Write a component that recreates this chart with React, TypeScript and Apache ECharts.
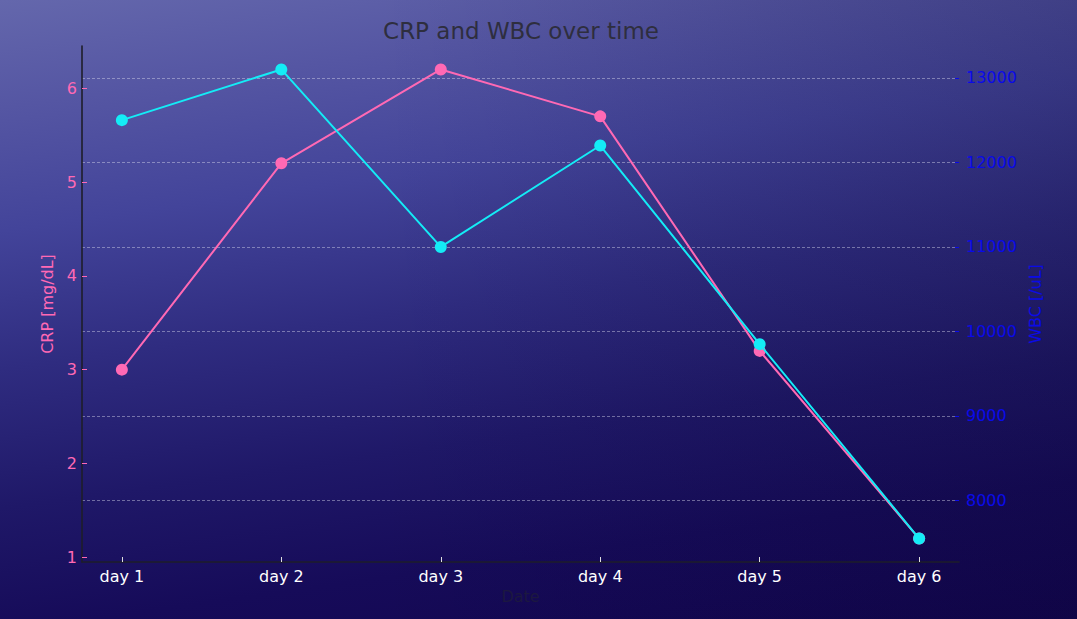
import React, { useEffect, useRef } from "react";
import * as echarts from "echarts";

const categories = ["day 1", "day 2", "day 3", "day 4", "day 5", "day 6"];
const crpValues = [3.0, 5.2, 6.2, 5.7, 3.2, 1.2];
const wbcValues = [12500, 13100, 11000, 12200, 9850, 7550];
const crpTicks = [1, 2, 3, 4, 5, 6];
const wbcTicks = [8000, 9000, 10000, 11000, 12000, 13000];

const FONT = "DejaVu Sans";

export default function App() {
  const ref = useRef<HTMLDivElement>(null);
  useEffect(() => {
    if (!ref.current) return;
    const chart = echarts.init(ref.current, null, { renderer: "svg" });
    const xIdx = categories.map((_, i) => i);
    const pad = (arr: number[]) => {
      const mn = Math.min(...arr), mx = Math.max(...arr);
      const m = (mx - mn) * 0.05;
      return [mn - m, mx + m];
    };
    const [cMin, cMax] = pad(crpValues);
    const [wMin, wMax] = pad(wbcValues);
    const [xMin, xMax] = pad(xIdx);
    chart.setOption({
      animation: false,
      backgroundColor: "transparent",
      textStyle: { fontFamily: FONT },
      title: {
        text: "CRP and WBC over time",
        left: 516,
        textAlign: "center",
        top: 14,
        textStyle: { color: "#2e2e3e", fontSize: 23, fontWeight: "normal", fontFamily: FONT },
      },
      grid: { left: 82, right: 118, top: 46, bottom: 57, containLabel: false },
      xAxis: {
        type: "value",
        min: xMin,
        max: xMax,
        name: "Date",
        nameLocation: "middle",
        nameGap: 26,
        nameTextStyle: { color: "#1c1840", fontSize: 16, fontFamily: FONT },
        axisLine: { show: true, onZero: false, lineStyle: { color: "#1e1e2a", width: 1.6 } },
        axisTick: { show: true, inside: true, length: 5, customValues: xIdx, lineStyle: { color: "#dddddd", width: 1 } },
        axisLabel: {
          customValues: xIdx,
          color: "#ffffff",
          fontSize: 16,
          margin: 6,
          fontFamily: FONT,
          formatter: (v: number) => categories[Math.round(v)] ?? "",
        },
        splitLine: { show: false },
      },
      yAxis: [
        {
          type: "value",
          min: cMin,
          max: cMax,
          name: "CRP [mg/dL]",
          nameLocation: "middle",
          nameGap: 15,
          nameRotate: 90,
          nameTextStyle: { color: "#ff69b4", fontSize: 16, fontFamily: FONT },
          axisLine: { show: true, onZero: false, lineStyle: { color: "#1e1e2a", width: 1.6 } },
          axisTick: { show: true, inside: true, length: 5, customValues: crpTicks, lineStyle: { color: "#ff69b4" } },
          axisLabel: {
            customValues: crpTicks,
            color: "#ff69b4",
            fontSize: 16,
            margin: 5,
            fontFamily: FONT,
            formatter: (v: number) => String(v),
          },
          splitLine: { show: false },
        },
        {
          type: "value",
          min: wMin,
          max: wMax,
          position: "right",
          name: "WBC [/uL]",
          nameLocation: "middle",
          nameGap: 56,
          nameRotate: 90,
          nameTextStyle: { color: "#0a0ae8", fontSize: 16, fontFamily: FONT },
          axisLine: { show: false, onZero: false },
          axisTick: { show: true, inside: true, length: 4, customValues: wbcTicks, lineStyle: { color: "#0a0ae8" } },
          axisLabel: {
            customValues: wbcTicks,
            color: "#0a0ae8",
            fontSize: 16,
            margin: 7,
            fontFamily: FONT,
            formatter: (v: number) => String(v),
          },
          splitLine: {
            show: true,
            lineStyle: { color: "rgba(220,220,240,0.55)", type: [3, 2], width: 0.8 },
          },
        },
      ],
      series: [
        {
          name: "CRP",
          type: "line",
          yAxisIndex: 0,
          data: crpValues.map((v, i) => [xIdx[i], v]),
          symbol: "circle",
          symbolSize: 12,
          lineStyle: { color: "#ff69b4", width: 2 },
          itemStyle: { color: "#ff69b4" },
          z: 3,
        },
        {
          name: "WBC",
          type: "line",
          yAxisIndex: 1,
          data: wbcValues.map((v, i) => [xIdx[i], v]),
          symbol: "circle",
          symbolSize: 12,
          lineStyle: { color: "#14ecf6", width: 2 },
          itemStyle: { color: "#14ecf6" },
          z: 4,
        },
      ],
    });
    return () => chart.dispose();
  }, []);
  return (
    <div
      style={{
        position: "absolute",
        left: 0,
        top: 0,
        width: 1077,
        height: 619,
        background:
          "linear-gradient(90deg, rgba(8,4,40,0) 35%, rgba(8,4,40,0.22) 100%), linear-gradient(172deg, #6467ac 0%, #5556a3 14%, #43449a 30%, #2f2c80 48%, #1f1868 66%, #160b59 82%, #12054f 100%)",
      }}
    >
      <div ref={ref} style={{ width: 1077, height: 619 }} />
    </div>
  );
}
